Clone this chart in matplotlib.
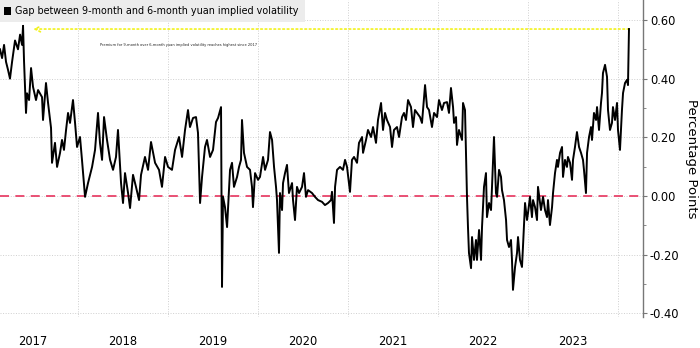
import matplotlib
matplotlib.use("Agg")
import matplotlib.pyplot as plt
import matplotlib.patches as mpatches
from matplotlib.ticker import FixedLocator, MultipleLocator

TITLE = "Gap between 9-month and 6-month yuan implied volatility"
Y_LABEL = "Percentage Points"
NOTE = "Premium for 9-month over 6-month yuan implied volatility reaches highest since 2017"

YEARS = [2017, 2018, 2019, 2020, 2021, 2022, 2023]
Y_TICKS = [-0.40, -0.20, 0.00, 0.20, 0.40, 0.60]

# time as decimal years, gap in percentage points
DATES = [
    2017.133, 2017.156, 2017.178, 2017.200, 2017.222, 2017.244, 2017.267, 2017.300, 2017.333, 2017.356,
    2017.378, 2017.389, 2017.400, 2017.422, 2017.433, 2017.456, 2017.478, 2017.500, 2017.533, 2017.556,
    2017.600, 2017.611, 2017.644, 2017.667, 2017.700, 2017.711, 2017.744, 2017.767, 2017.800, 2017.822,
    2017.844, 2017.867, 2017.889, 2017.911, 2017.944, 2017.967, 2017.989, 2018.022, 2018.044, 2018.078,
    2018.111, 2018.156, 2018.189, 2018.222, 2018.244, 2018.267, 2018.289, 2018.322, 2018.356, 2018.389,
    2018.422, 2018.444, 2018.478, 2018.500, 2018.522, 2018.556, 2018.578, 2018.611, 2018.644, 2018.678,
    2018.700, 2018.744, 2018.778, 2018.811, 2018.856, 2018.900, 2018.933, 2018.967, 2019.000, 2019.044,
    2019.078, 2019.122, 2019.156, 2019.189, 2019.222, 2019.244, 2019.278, 2019.311, 2019.333, 2019.356,
    2019.378, 2019.411, 2019.433, 2019.467, 2019.500, 2019.533, 2019.556, 2019.589, 2019.600, 2019.611,
    2019.633, 2019.656, 2019.689, 2019.711, 2019.733, 2019.767, 2019.789, 2019.811, 2019.822, 2019.844,
    2019.878, 2019.911, 2019.933, 2019.944, 2019.967, 2020.000, 2020.022, 2020.056, 2020.078, 2020.111,
    2020.133, 2020.156, 2020.178, 2020.200, 2020.211, 2020.233, 2020.244, 2020.267, 2020.278, 2020.300,
    2020.322, 2020.344, 2020.378, 2020.389, 2020.411, 2020.433, 2020.456, 2020.489, 2020.511, 2020.533,
    2020.556, 2020.600, 2020.633, 2020.667, 2020.711, 2020.744, 2020.778, 2020.811, 2020.822, 2020.844,
    2020.856, 2020.878, 2020.911, 2020.944, 2020.967, 2020.989, 2021.022, 2021.044, 2021.067, 2021.100,
    2021.122, 2021.156, 2021.167, 2021.200, 2021.222, 2021.256, 2021.278, 2021.311, 2021.333, 2021.367,
    2021.389, 2021.411, 2021.433, 2021.467, 2021.489, 2021.511, 2021.544, 2021.567, 2021.600, 2021.622,
    2021.644, 2021.667, 2021.700, 2021.722, 2021.744, 2021.767, 2021.800, 2021.822, 2021.856, 2021.878,
    2021.900, 2021.933, 2021.956, 2021.989, 2022.011, 2022.044, 2022.067, 2022.100, 2022.122, 2022.144,
    2022.167, 2022.178, 2022.200, 2022.211, 2022.233, 2022.267, 2022.278, 2022.300, 2022.322, 2022.333,
    2022.344, 2022.367, 2022.378, 2022.400, 2022.422, 2022.433, 2022.456, 2022.478, 2022.489, 2022.511,
    2022.533, 2022.544, 2022.567, 2022.589, 2022.600, 2022.622, 2022.644, 2022.656, 2022.678, 2022.700,
    2022.711, 2022.733, 2022.756, 2022.767, 2022.789, 2022.811, 2022.822, 2022.833, 2022.856, 2022.878,
    2022.889, 2022.911, 2022.933, 2022.944, 2022.967, 2022.989, 2023.000, 2023.022, 2023.044, 2023.056,
    2023.078, 2023.100, 2023.111, 2023.144, 2023.167, 2023.189, 2023.211, 2023.222, 2023.244, 2023.267,
    2023.278, 2023.300, 2023.322, 2023.333, 2023.356, 2023.378, 2023.389, 2023.411, 2023.433, 2023.444,
    2023.467, 2023.489, 2023.500, 2023.522, 2023.544, 2023.567, 2023.589, 2023.611, 2023.622, 2023.644,
    2023.656, 2023.678, 2023.700, 2023.711, 2023.733, 2023.756, 2023.767, 2023.789, 2023.811, 2023.822,
    2023.833, 2023.856, 2023.878, 2023.889, 2023.911, 2023.933, 2023.944, 2023.967, 2023.989, 2024.000,
    2024.022, 2024.044, 2024.056, 2024.078, 2024.100, 2024.111, 2024.122,
]
GAP = [
    0.50, 0.47, 0.515, 0.457, 0.43, 0.40, 0.457, 0.53, 0.50, 0.55,
    0.515, 0.58, 0.46, 0.283, 0.35, 0.327, 0.436, 0.372, 0.327, 0.361,
    0.337, 0.259, 0.385, 0.317, 0.232, 0.113, 0.181, 0.099, 0.147, 0.191,
    0.157, 0.225, 0.283, 0.249, 0.327, 0.249, 0.167, 0.201, 0.123, -0.003,
    0.044, 0.099, 0.157, 0.283, 0.181, 0.123, 0.269, 0.191, 0.123, 0.089,
    0.133, 0.225, 0.044, -0.024, 0.078, 0.010, -0.041, 0.072, 0.031, -0.014,
    0.072, 0.133, 0.089, 0.184, 0.113, 0.089, 0.031, 0.133, 0.099, 0.089,
    0.157, 0.201, 0.133, 0.225, 0.293, 0.235, 0.266, 0.269, 0.215, -0.024,
    0.065, 0.167, 0.191, 0.133, 0.157, 0.252, 0.266, 0.303, -0.310, -0.003,
    -0.038, -0.106, 0.089, 0.113, 0.031, 0.065, 0.099, 0.123, 0.259, 0.147,
    0.099, 0.089, 0.031, -0.038, 0.078, 0.055, 0.065, 0.133, 0.089, 0.123,
    0.218, 0.191, 0.099, 0.031, -0.014, -0.194, 0.010, -0.048, 0.044, 0.078,
    0.106, 0.010, 0.044, -0.014, -0.082, 0.031, 0.010, 0.031, 0.078, -0.003,
    0.020, 0.010, -0.003, -0.014, -0.020, -0.031, -0.024, -0.014, 0.014, -0.092,
    0.031, 0.089, 0.099, 0.089, 0.123, 0.099, 0.014, 0.123, 0.133, 0.113,
    0.181, 0.201, 0.147, 0.191, 0.225, 0.201, 0.235, 0.181, 0.259, 0.317,
    0.225, 0.283, 0.259, 0.235, 0.167, 0.225, 0.235, 0.201, 0.269, 0.283,
    0.259, 0.327, 0.303, 0.235, 0.293, 0.283, 0.269, 0.249, 0.378, 0.303,
    0.293, 0.235, 0.283, 0.269, 0.327, 0.293, 0.317, 0.320, 0.283, 0.368,
    0.303, 0.249, 0.269, 0.174, 0.225, 0.191, 0.317, 0.293, -0.003, -0.106,
    -0.194, -0.246, -0.140, -0.218, -0.150, -0.218, -0.116, -0.218, -0.106, 0.031,
    0.078, -0.072, -0.024, -0.048, 0.031, 0.201, 0.010, -0.003, 0.089, 0.065,
    0.020, -0.014, -0.082, -0.150, -0.174, -0.150, -0.218, -0.320, -0.242, -0.194,
    -0.140, -0.218, -0.242, -0.174, -0.024, -0.082, -0.058, -0.003, -0.072, -0.014,
    -0.038, -0.082, 0.031, -0.048, -0.003, -0.048, -0.072, -0.014, -0.099, -0.038,
    0.010, 0.078, 0.123, 0.099, 0.147, 0.167, 0.065, 0.123, 0.099, 0.133,
    0.113, 0.055, 0.123, 0.167, 0.218, 0.167, 0.147, 0.123, 0.089, 0.010,
    0.147, 0.201, 0.235, 0.191, 0.283, 0.259, 0.303, 0.225, 0.317, 0.351,
    0.419, 0.447, 0.406, 0.293, 0.225, 0.249, 0.303, 0.259, 0.317, 0.225,
    0.157, 0.293, 0.351, 0.385, 0.396, 0.378, 0.569,
]
LATEST = GAP[-1]
NOTE_START = 2017.5

LINE_COLOR = "black"
ZERO_COLOR = "#e8436a"
HIGHLIGHT_COLOR = "#f2f21a"
GRID_COLOR = "#cfcfcf"
SPINE_COLOR = "#777777"
LEGEND_BG = "#ececec"

fig = plt.figure(figsize=(7.0, 3.48), dpi=100)
ax = fig.add_axes([0.0, 0.0891, 0.9186, 0.9109])

ax.plot(DATES, GAP, color=LINE_COLOR, linewidth=1.4, zorder=3)
ax.axhline(0, color=ZERO_COLOR, linewidth=1.3, linestyle=(0, (5, 3.5)), zorder=2)

ax.annotate("", xy=(NOTE_START, LATEST), xytext=(DATES[-1], LATEST),
            arrowprops=dict(arrowstyle="->", color=HIGHLIGHT_COLOR, linestyle=":", linewidth=1.2,
                            shrinkA=0, shrinkB=0), zorder=2)
ax.text(2018.24, 0.515, NOTE, fontsize=2.6, color="#222222", va="center", ha="left")

ax.set_xlim(2017.133, 2024.278)
ax.set_ylim(-0.4125, 0.668)

ax.xaxis.set_major_locator(FixedLocator([y + 1 for y in YEARS]))
ax.xaxis.set_minor_locator(FixedLocator([y + 0.5 for y in YEARS]))
ax.set_xticklabels([], minor=False)
ax.set_xticklabels([str(y) for y in YEARS], minor=True)
ax.tick_params(axis="x", which="both", length=0, pad=13, labelsize=8.3)

ax.yaxis.tick_right()
ax.yaxis.set_label_position("right")
ax.set_yticks(Y_TICKS)
ax.set_yticklabels([f"{v:.2f}" for v in Y_TICKS])
ax.yaxis.set_minor_locator(MultipleLocator(0.1))
ax.tick_params(axis="y", which="major", length=3, width=0.8, color=SPINE_COLOR, pad=2, labelsize=8.3)
ax.tick_params(axis="y", which="minor", length=2, width=0.6, color=SPINE_COLOR)
ax.set_ylabel(Y_LABEL, rotation=270, fontsize=9.5, labelpad=13)

ax.grid(True, which="major", color=GRID_COLOR, linestyle=":", linewidth=0.7, zorder=0)

for side in ["left", "top", "bottom"]:
    ax.spines[side].set_visible(False)
ax.spines["right"].set_color(SPINE_COLOR)
ax.spines["right"].set_linewidth(1.0)

# legend strip at the top left
fig.patches.append(mpatches.Rectangle((0, 1 - 22 / 348), 305 / 700, 22 / 348,
                                      transform=fig.transFigure, facecolor=LEGEND_BG,
                                      edgecolor="none", zorder=5))
fig.patches.append(mpatches.Rectangle((4 / 700, 1 - 15 / 348), 7 / 700, 8 / 348,
                                      transform=fig.transFigure, facecolor="black",
                                      edgecolor="none", zorder=6))
fig.text(15 / 700, 1 - 11 / 348, TITLE, fontsize=6.9, va="center", ha="left", zorder=7)

plt.savefig("out.png", dpi=100)
